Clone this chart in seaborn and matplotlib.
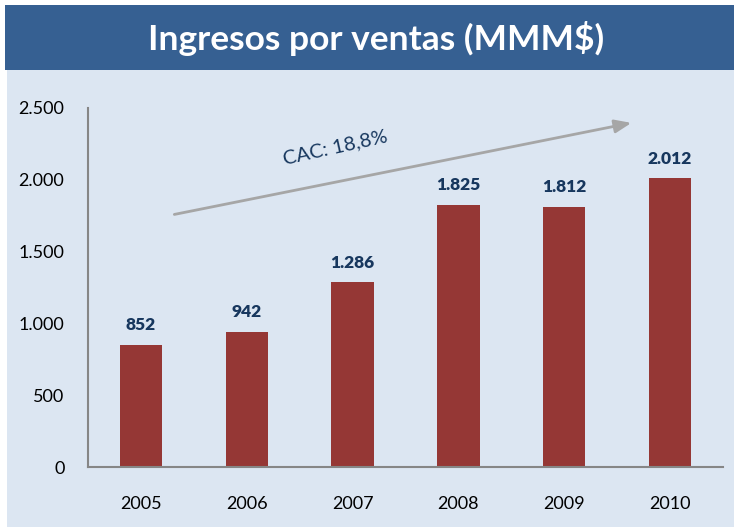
import matplotlib
matplotlib.use("Agg")
import matplotlib.pyplot as plt
import seaborn as sns
import pandas as pd
from matplotlib.patches import Rectangle

# datos ========================================================================
years = ["2005", "2006", "2007", "2008", "2009", "2010"]
ingresos = [852, 942, 1286, 1825, 1812, 2012]
ytick_vals = [0, 500, 1000, 1500, 2000, 2500]
ytick_labels = ["0", "500", "1.000", "1.500", "2.000", "2.500"]
titulo = "Ingresos por ventas (MMM$)"
cac_label = "CAC: 18,8%"

df = pd.DataFrame({"year": years, "ingresos": ingresos})

# Figure =======================================================================
sns.set_style("ticks")
plt.rcParams["font.family"] = ["Lato", "DejaVu Sans"]

fig = plt.figure(figsize=(7.34, 5.27), dpi=100)
fig.patch.set_facecolor("white")
# fondo claro y banda de titulo
fig.patches.append(Rectangle((7 / 734, 0), 1, 1 - 70 / 527, transform=fig.transFigure,
                             facecolor="#DCE6F2", edgecolor="none", zorder=-10))
fig.patches.append(Rectangle((5 / 734, 1 - 70 / 527), 1, 65 / 527, transform=fig.transFigure,
                             facecolor="#366092", edgecolor="none", zorder=-10))
fig.text(376 / 734, 1 - 38 / 527, titulo, color="white", fontsize=25.5, fontweight="bold",
         ha="center", va="center")

ax = fig.add_axes([88 / 734, 1 - 467 / 527, 635 / 734, 359 / 527])
ax.set_facecolor("none")

sns.barplot(data=df, x="year", y="ingresos", color="#953735", saturation=1,
            width=0.4, linewidth=0, ax=ax)

for i, v in enumerate(ingresos):
    ax.text(i, v + 80, "{:,}".format(v).replace(",", "."), ha="center", va="bottom",
            fontsize=12.5, fontweight="heavy", color="#17375E")

ax.set_xlim(-0.5, 5.5)
ax.set_ylim(0, 2500)
ax.set_yticks(ytick_vals)
ax.set_yticklabels(ytick_labels)
ax.set_xlabel("")
ax.set_ylabel("")
ax.tick_params(axis="both", length=0, labelsize=13, colors="black")
ax.tick_params(axis="y", pad=17)
ax.tick_params(axis="x", pad=21)
for s in ["top", "right"]:
    ax.spines[s].set_visible(False)
for s in ["left", "bottom"]:
    ax.spines[s].set_color("#868686")
    ax.spines[s].set_linewidth(1.5)

# flecha de crecimiento
ax.annotate("", xy=(4.66, 2400), xytext=(0.29, 1755),
            arrowprops=dict(arrowstyle="-|>,head_length=1.0,head_width=0.4",
                            color="#A6A6A6", lw=2))
ax.text(1.84, 2228, cac_label, rotation=12.5, ha="center", va="center",
        fontsize=14.5, color="#17375E", rotation_mode="anchor")

fig.savefig("out.png", dpi=100)
